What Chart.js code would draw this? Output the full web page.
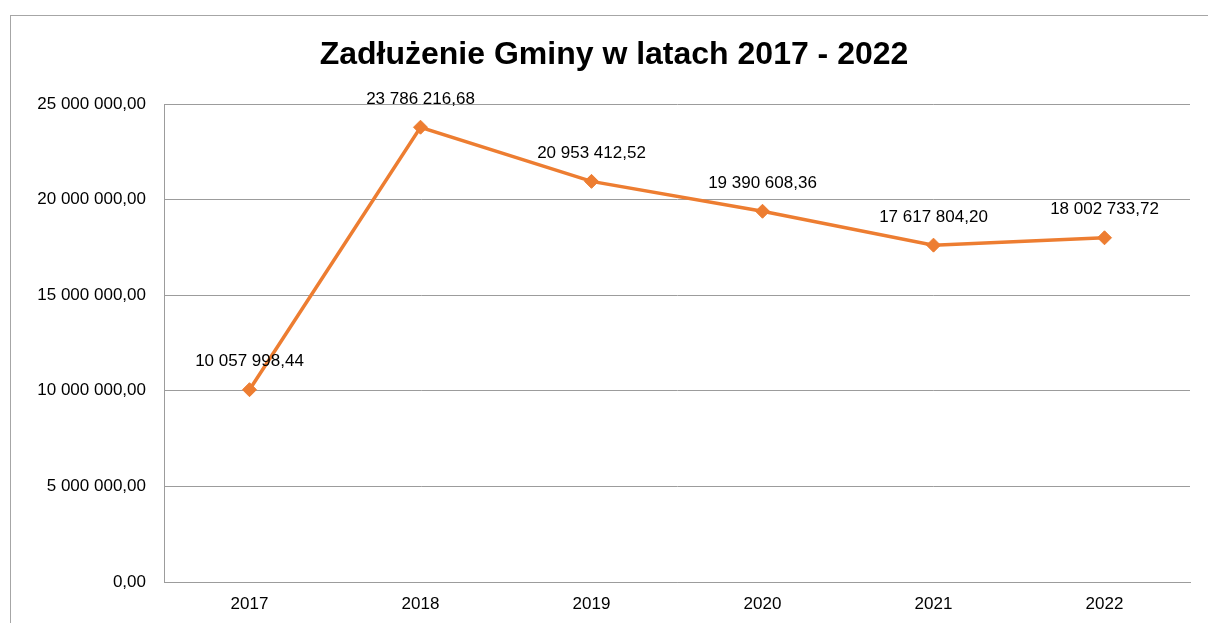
<!DOCTYPE html>
<html>
<head>
<meta charset="utf-8">
<script src="https://cdn.jsdelivr.net/npm/chart.js@4/dist/chart.umd.min.js"></script>
<style>
html,body{margin:0;padding:0;background:#fff;overflow:hidden;}
#wrap{position:relative;width:1208px;height:623px;}
</style>
</head>
<body>
<div id="wrap"><canvas id="c" width="1208" height="623"></canvas></div>
<script>
const titleText = 'Zadłużenie Gminy w latach 2017 - 2022';
const categories = ['2017', '2018', '2019', '2020', '2021', '2022'];
const debtValues = [10057998.44, 23786216.68, 20953412.52, 19390608.36, 17617804.20, 18002733.72];
const yTicks = [0, 5000000, 10000000, 15000000, 20000000, 25000000];

function fmtPL(v) {
  const fixed = Math.abs(v).toFixed(2);
  const parts = fixed.split('.');
  const intPart = parts[0].replace(/\B(?=(\d{3})+(?!\d))/g, ' ');
  return (v < 0 ? '-' : '') + intPart + ',' + parts[1];
}

const FONT = "'Liberation Sans', Arial, sans-serif";
const GRID = '#9c9c9c';

const framePlugin = {
  id: 'frame',
  beforeDraw(chart) {
    const ctx = chart.ctx;
    ctx.save();
    ctx.fillStyle = '#fff';
    ctx.fillRect(0, 0, chart.width, chart.height);
    ctx.strokeStyle = '#a6a6a6';
    ctx.lineWidth = 1;
    ctx.strokeRect(10.5, 15.5, 1400, 1000);
    ctx.fillStyle = '#000';
    ctx.font = 'bold 32px ' + FONT;
    ctx.textAlign = 'center';
    ctx.textBaseline = 'middle';
    ctx.fillText(titleText, 614, 55);
    ctx.restore();
  }
};

const labelPlugin = {
  id: 'pointLabels',
  afterDatasetsDraw(chart) {
    const ctx = chart.ctx;
    const meta = chart.getDatasetMeta(0);
    const data = chart.data.datasets[0].data;
    ctx.save();
    ctx.font = '17px ' + FONT;
    ctx.fillStyle = '#000';
    ctx.textAlign = 'center';
    ctx.textBaseline = 'middle';
    meta.data.forEach((pt, i) => {
      ctx.fillText(fmtPL(data[i]), pt.x, pt.y - 28);
    });
    ctx.restore();
  }
};

new Chart(document.getElementById('c'), {
  type: 'line',
  data: {
    labels: categories,
    datasets: [{
      data: debtValues,
      borderColor: '#ED7D31',
      backgroundColor: '#ED7D31',
      borderWidth: 3.5,
      pointStyle: 'rectRot',
      pointRadius: 7,
      pointBorderWidth: 1,
      pointBackgroundColor: '#ED7D31',
      pointBorderColor: '#ED7D31',
      tension: 0,
      clip: false
    }]
  },
  options: {
    responsive: false,
    animation: false,
    devicePixelRatio: 1,
    layout: { padding: { left: 10, right: 18, top: 104, bottom: 9 } },
    plugins: {
      legend: { display: false },
      tooltip: { enabled: false },
      title: { display: false }
    },
    scales: {
      x: {
        offset: true,
        afterFit(scale) { scale.height = 32; },
        grid: { display: false, drawTicks: false },
        border: { display: true, color: GRID, width: 1 },
        ticks: { color: '#000', font: { family: FONT, size: 17 }, padding: 12, maxRotation: 0 }
      },
      y: {
        min: 0,
        max: 25000000,
        afterBuildTicks(scale) { scale.ticks = yTicks.map(v => ({ value: v })); },
        afterFit(scale) { scale.width = 154; },
        grid: { color: GRID, lineWidth: 1, drawTicks: false },
        border: { display: true, color: GRID, width: 1 },
        ticks: {
          color: '#000',
          font: { family: FONT, size: 17 },
          padding: 18,
          callback: (v) => fmtPL(v)
        }
      }
    }
  },
  plugins: [framePlugin, labelPlugin]
});
</script>
</body>
</html>
